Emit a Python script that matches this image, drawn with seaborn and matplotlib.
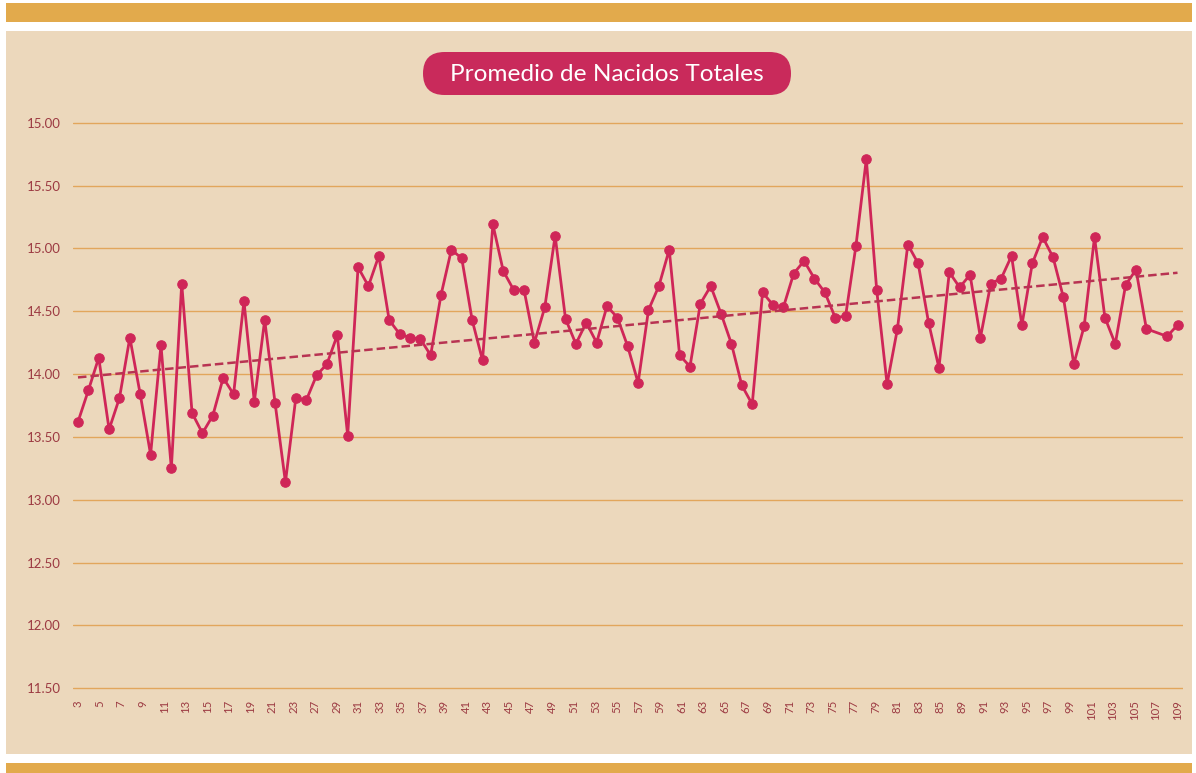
import numpy as np
import pandas as pd
import matplotlib
matplotlib.use("Agg")
import matplotlib.pyplot as plt
from matplotlib.patches import Rectangle, FancyBboxPatch
import seaborn as sns

# ---------------- data ----------------
title = "Promedio de Nacidos Totales"

nacidos = [
    13.62, 13.87, 14.13, 13.56, 13.81, 14.29, 13.84, 13.36, 14.23, 13.25,
    14.72, 13.69, 13.53, 13.67, 13.97, 13.84, 14.58, 13.78, 14.43, 13.77,
    13.14, 13.81, 13.79, 13.99, 14.08, 14.31, 13.51, 14.85, 14.70, 14.94,
    14.43, 14.32, 14.29, 14.28, 14.15, 14.63, 14.99, 14.92, 14.43, 14.11,
    15.19, 14.82, 14.67, 14.67, 14.25, 14.53, 15.10, 14.44, 14.24, 14.41,
    14.25, 14.54, 14.45, 14.22, 13.93, 14.51, 14.70, 14.99, 14.15, 14.06,
    14.56, 14.70, 14.48, 14.24, 13.91, 13.76, 14.65, 14.55, 14.53, 14.80,
    14.90, 14.76, 14.65, 14.45, 14.46, 15.02, 15.71, 14.67, 13.92, 14.36,
    15.03, 14.88, 14.41, 14.05, 14.81, 14.69, 14.79, 14.29, 14.72, 14.76,
    14.94, 14.39, 14.88, 15.09, 14.93, 14.61, 14.08, 14.38, 15.09, 14.45,
    14.24, 14.71, 14.83, 14.36, np.nan, 14.30, 14.39,
]

x_tick_labels = (list(range(3, 24, 2)) + list(range(27, 86, 2))
                 + list(range(89, 110, 2)))
y_tick_values = [11.5, 12.0, 12.5, 13.0, 13.5, 14.0, 14.5, 15.0, 15.5, 16.0]
y_tick_labels = ["11.50", "12.00", "12.50", "13.00", "13.50", "14.00",
                 "14.50", "15.00", "15.50", "15.00"]

df = pd.DataFrame({"pos": np.arange(len(nacidos)), "valor": nacidos}).dropna()

# ---------------- style ----------------
sns.set_style("white")
plt.rcParams["font.family"] = ["Lato", "DejaVu Sans"]

W, H = 1196, 773
fig = plt.figure(figsize=(W / 100, H / 100), dpi=100, facecolor="white")

gold = "#e2aa4c"
panel = "#ecd8bc"
crimson = "#cf2658"
trend_col = "#b83352"
grid_col = "#e2a65c"
txt_col = "#9c3a42"

# background / decoration layer in pixel units
bg = fig.add_axes([0, 0, 1, 1], zorder=0)
bg.set_xlim(0, W)
bg.set_ylim(H, 0)
bg.axis("off")
bg.add_patch(Rectangle((6, 3), 1186, 19, color=gold, lw=0))
bg.add_patch(Rectangle((6, 31), 1186, 723, color=panel, lw=0))
bg.add_patch(Rectangle((6, 763), 1186, 12, color=gold, lw=0))

pill_x0, pill_x1, pill_y0, pill_y1 = 423, 791, 52, 95
r = (pill_y1 - pill_y0) / 2
bg.add_patch(FancyBboxPatch((pill_x0, pill_y0), pill_x1 - pill_x0, pill_y1 - pill_y0,
                            boxstyle="round,pad=0,rounding_size=%f" % r,
                            facecolor="#c92a5b", edgecolor="none"))
bg.text((pill_x0 + pill_x1) / 2, (pill_y0 + pill_y1) / 2 + 1, title,
        ha="center", va="center", color="white", fontsize=17.6)

# main axes placement
x0_px, x1_px = 73, 1183
y_top_px, y_bot_px = 116.4, 694.6
ax = fig.add_axes([x0_px / W, 1 - y_bot_px / H, (x1_px - x0_px) / W,
                   (y_bot_px - y_top_px) / H], zorder=1)
ax.set_facecolor("none")

sns.lineplot(data=df, x="pos", y="valor", ax=ax, color=crimson, lw=2.0,
             marker="o", markersize=6.8, markeredgecolor=crimson,
             markeredgewidth=0.8, zorder=3)
sns.regplot(data=df, x="pos", y="valor", ax=ax, scatter=False, ci=None,
            truncate=True,
            line_kws=dict(color=trend_col, lw=1.8, ls=(0, (3.4, 1.6)), zorder=4))

n = len(nacidos)
ax.set_xlim(-0.48, n - 1 + 0.53)
ax.set_ylim(11.45, 16.05)

ax.set_yticks(y_tick_values)
ax.set_yticklabels(y_tick_labels)
ax.set_xticks(np.linspace(0, n - 1, len(x_tick_labels)))
ax.set_xticklabels([str(v) for v in x_tick_labels], rotation=90)

ax.tick_params(axis="y", length=0, pad=9, labelsize=9.5, labelcolor=txt_col)
ax.tick_params(axis="x", length=0, pad=4, labelsize=8.2, labelcolor=txt_col)
ax.yaxis.grid(True, color=grid_col, lw=1.0)
ax.xaxis.grid(False)
ax.set_axisbelow(True)
for s in ax.spines.values():
    s.set_visible(False)
ax.set_xlabel("")
ax.set_ylabel("")

fig.savefig("out.png", dpi=100, facecolor="white")
